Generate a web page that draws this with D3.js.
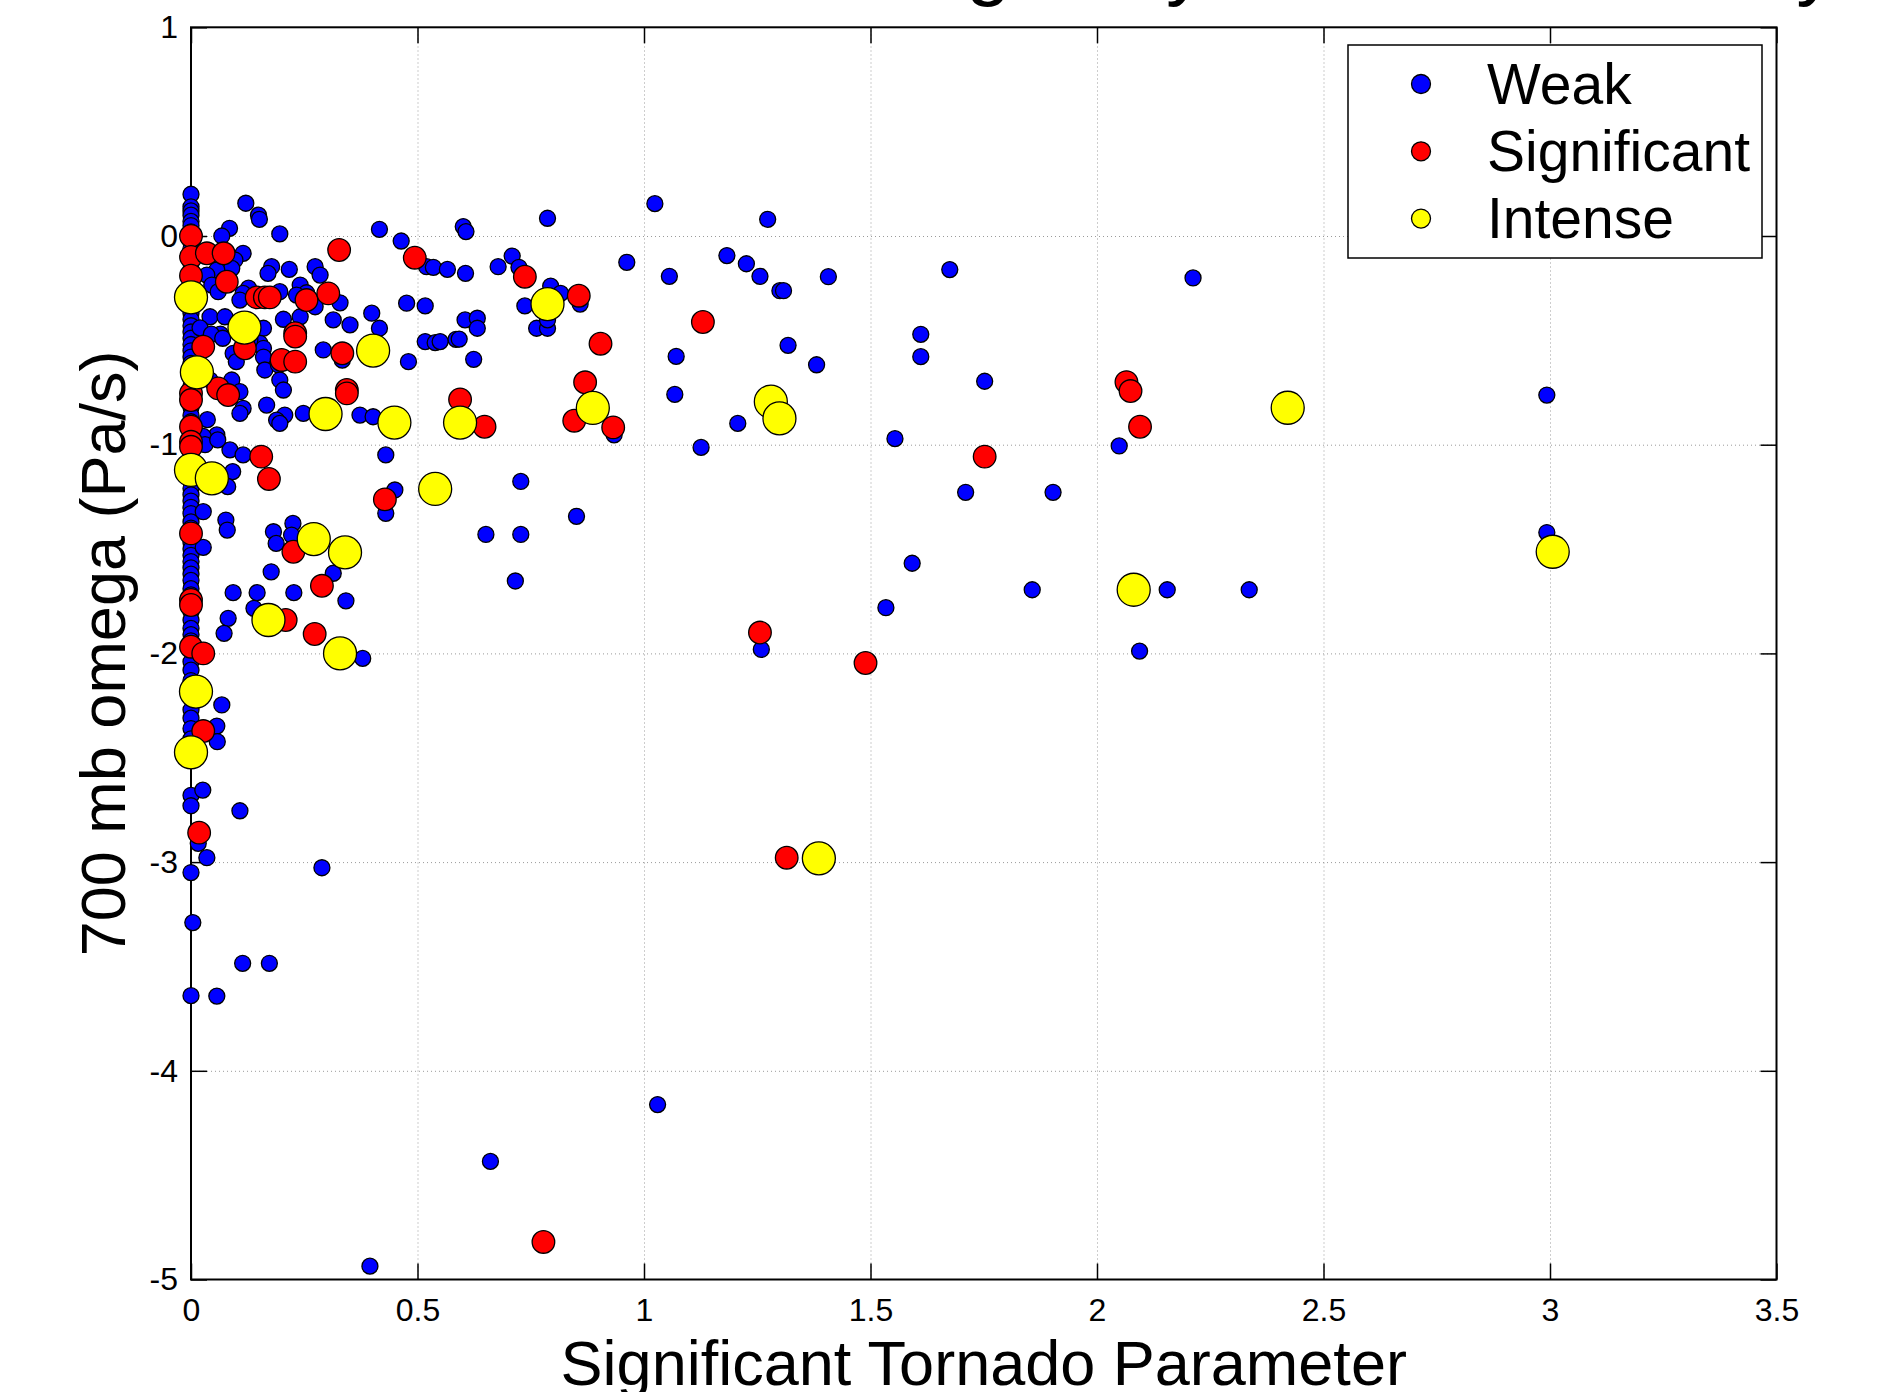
<!DOCTYPE html>
<html>
<head>
<meta charset="utf-8">
<script src="https://cdn.jsdelivr.net/npm/d3@7"></script>
<style>
  body { margin: 0; background: #fff; }
  text { font-family: "Liberation Sans", Arial, sans-serif; }
</style>
</head>
<body>
<div id="viz"></div>
<script>
// tick values and labels
const xTicks = [0, 0.5, 1, 1.5, 2, 2.5, 3, 3.5]
const xTickLabels = ["0", "0.5", "1", "1.5", "2", "2.5", "3", "3.5"]
const yTicks = [-5, -4, -3, -2, -1, 0, 1]
const yTickLabels = ["-5", "-4", "-3", "-2", "-1", "0", "1"]

// series names
const seriesNames = ["Weak", "Significant", "Intense"]

// weak tornadoes, [STP, omega]
const weakPts = [
  [0,0.20],[0,0.14],[0,0.12],[0,0.10],[0,0.07],[0,0.05],[0,0.02],[0,-0.03],[0,-0.06],[0,-0.13],
  [0,-0.16],[0,-0.22],[0,-0.26],[0,-0.34],[0,-0.37],[0,-0.40],[0,-0.43],[0,-0.46],[0,-0.49],[0,-0.52],
  [0,-0.55],[0,-0.58],[0,-0.61],[0,-0.64],[0,-0.68],[0,-0.72],[0,-0.82],[0,-0.86],[0,-0.89],[0,-0.95],
  [0,-1.04],[0,-1.17],[0,-1.21],[0,-1.24],[0,-1.27],[0,-1.30],[0,-1.33],[0,-1.37],[0,-1.40],[0,-1.47],
  [0,-1.50],[0,-1.53],[0,-1.56],[0,-1.59],[0,-1.62],[0,-1.65],[0,-1.69],[0,-1.72],[0,-1.80],[0,-1.84],
  [0,-1.88],[0,-1.91],[0,-1.94],[0,-2.04],[0,-2.08],[0,-2.13],[0,-2.27],[0,-2.31],[0,-2.36],[0,-2.41],
  [0,-2.68],[0,-2.73],[0,-3.05],[0.004,-3.29],[0,-3.64],
  [0.121,0.157],[0.149,0.10],[0.151,0.08],[0.085,0.037],[0.068,0.0],[0.196,0.01],[0.115,-0.083],
  [0.097,-0.115],[0.09,-0.155],[0.178,-0.147],[0.17,-0.179],[0.217,-0.16],[0.274,-0.147],[0.285,-0.187],
  [0.057,-0.163],[0.035,-0.187],[0.046,-0.235],[0.06,-0.267],[0.127,-0.25],[0.115,-0.275],[0.108,-0.307],
  [0.196,-0.267],[0.241,-0.235],[0.255,-0.272],[0.233,-0.283],[0.329,-0.32],[0.274,-0.339],[0.042,-0.387],
  [0.075,-0.387],[0.02,-0.44],[0.065,-0.47],[0.045,-0.47],[0.07,-0.49],[0.16,-0.442],[0.152,-0.514],
  [0.16,-0.538],[0.13,-0.498],[0.204,-0.399],[0.241,-0.387],[0.314,-0.402],[0.351,-0.426],[0.399,-0.37],
  [0.416,-0.442],[0.093,-0.562],[0.1,-0.602],[0.16,-0.58],[0.292,-0.546],[0.334,-0.595],[0.48,-0.602],
  [0.517,-0.506],[0.539,-0.511],[0.585,-0.495],[0.476,-0.322],[0.517,-0.335],[0.416,0.032],[0.464,-0.024],
  [0.52,-0.147],[0.535,-0.15],[0.163,-0.642],[0.193,-0.618],[0.196,-0.69],[0.204,-0.738],[0.042,-0.69],
  [0.09,-0.69],[0.108,-0.746],[0.115,-0.826],[0.108,-0.85],[0.167,-0.81],[0.207,-0.858],[0.189,-0.882],
  [0.196,-0.898],[0.248,-0.85],[0.373,-0.858],[0.402,-0.866],[0.036,-0.88],[0.057,-0.953],[0.027,-0.96],
  [0.086,-1.025],[0.115,-1.049],[0.43,-1.049],[0.031,-1.0],[0.059,-0.977],[0.092,-1.129],[0.081,-1.201],
  [0.027,-1.321],[0.077,-1.361],[0.08,-1.409],[0.027,-1.492],[0.45,-1.217],[0.43,-1.329],[0.182,-1.417],
  [0.188,-1.473],[0.225,-1.377],[0.222,-1.433],[0.314,-1.616],[0.342,-1.748],[0.177,-1.609],[0.093,-1.709],
  [0.146,-1.709],[0.227,-1.709],[0.139,-1.784],[0.082,-1.832],[0.073,-1.904],[0.379,-2.024],[0.068,-2.247],
  [0.057,-2.348],[0.058,-2.423],[0.026,-2.655],[0.108,-2.754],[0.016,-2.91],[0.035,-2.979],[0.289,-3.027],
  [0.114,-3.485],[0.173,-3.485],[0.057,-3.642],
  [0.601,0.045],[0.607,0.021],[0.787,0.085],[1.024,0.155],[1.273,0.08],[0.566,-0.16],[0.606,-0.179],
  [0.678,-0.147],[0.709,-0.096],[0.724,-0.15],[0.962,-0.126],[1.056,-0.193],[1.183,-0.094],[1.226,-0.133],
  [1.256,-0.193],[1.3,-0.262],[1.308,-0.262],[0.794,-0.24],[0.816,-0.275],[0.859,-0.326],[0.737,-0.335],
  [0.763,-0.442],[0.787,-0.442],[0.787,-0.402],[0.605,-0.402],[0.632,-0.394],[0.632,-0.442],[0.55,-0.506],
  [0.592,-0.494],[0.624,-0.591],[1.071,-0.577],[1.318,-0.524],[1.381,-0.617],[1.068,-0.759],[0.934,-0.953],
  [1.207,-0.898],[1.126,-1.013],
  [0.728,-1.176],[0.851,-1.343],[0.651,-1.43],[0.728,-1.43],[0.716,-1.653],[1.259,-1.981],
  [1.407,-0.195],[1.675,-0.161],[2.212,-0.201],[1.611,-0.471],[1.611,-0.578],[1.752,-0.696],[1.554,-0.971],
  [2.049,-1.006],[1.71,-1.228],[1.903,-1.228],[1.592,-1.568],[1.534,-1.781],[1.857,-1.695],[2.155,-1.695],
  [2.336,-1.695],[2.094,-1.989],
  [2.993,-0.762],[2.993,-1.421],[1.03,-4.162],[0.661,-4.434],[0.395,-4.936]
]

// significant tornadoes
const sigPts = [
  [0,0],[0,-0.10],[0,-0.19],[0.035,-0.083],[0.072,-0.083],[0.079,-0.219],[0.145,-0.294],[0.163,-0.294],
  [0.174,-0.294],[0.255,-0.307],[0.303,-0.275],[0.23,-0.466],[0.23,-0.482],[0.027,-0.53],[0.119,-0.538],
  [0.2,-0.594],[0.23,-0.602],[0.334,-0.562],[0.344,-0.738],[0.344,-0.754],[0.06,-0.73],[0.082,-0.762],
  [0,-0.754],[0,-0.786],[0,-0.914],[0,-0.986],[0,-1.01],[0.155,-1.057],[0.172,-1.164],[0,-1.425],
  [0.226,-1.513],[0.289,-1.676],[0,-1.744],[0,-1.768],[0.209,-1.84],[0.273,-1.907],[0,-1.968],[0.027,-2.0],
  [0.027,-2.372],[0.018,-2.859],[0.428,-1.262],[0.494,-0.104],[0.327,-0.067],
  [0.737,-0.195],[0.856,-0.286],[0.904,-0.516],[0.87,-0.701],[0.846,-0.885],[0.932,-0.917],[0.594,-0.783],
  [0.648,-0.914],[1.13,-0.412],[1.256,-1.9],[1.315,-2.979],[1.489,-2.046],[1.752,-1.057],[2.065,-0.7],
  [2.074,-0.743],[2.095,-0.914],[0.778,-4.82]
]

// intense tornadoes
const intensePts = [
  [0,-0.294],[0.118,-0.439],[0.013,-0.653],[0.402,-0.549],[0.297,-0.853],[0.449,-0.894],[0,-1.121],
  [0.046,-1.161],[0.539,-1.212],[0.271,-1.452],[0.34,-1.516],[0.171,-1.84],[0.329,-2.0],[0.011,-2.183],
  [0,-2.474],[0.787,-0.326],[0.594,-0.894],[0.887,-0.824],[1.28,-0.794],[1.299,-0.874],[2.421,-0.823],
  [2.081,-1.695],[3.006,-1.513],[1.386,-2.982]
]

// dimensions and margin of the svg
const width = 1889
const height = 1392
const margin = {left: 191, top: 27.3, right: 112.5, bottom: 112.5}

// dimensions of g inside svg
const g_width = width - margin.left - margin.right;
const g_height = height - margin.top - margin.bottom;

var root = d3.select("#viz")
        .append("svg")
        .attr("width", width)
        .attr("height", height)
        .style("display", "block")
        .style("background", "#fff");

var svg = root.append("g")
        .attr("transform", "translate(" + margin.left + "," + margin.top + ")");

const x = d3.scaleLinear().domain([0, 3.5]).range([0, g_width]);
const y = d3.scaleLinear().domain([-5, 1]).range([g_height, 0]);

// dotted grid
svg.append("g")
    .attr("class", "grid")
    .attr("transform", "translate(0," + g_height + ")")
    .call(d3.axisBottom(x).tickValues(xTicks.slice(1, -1)).tickSize(-g_height).tickFormat(""));
svg.append("g")
    .attr("class", "grid")
    .call(d3.axisLeft(y).tickValues(yTicks.slice(1, -1)).tickSize(-g_width).tickFormat(""));
svg.selectAll(".grid .domain").remove();
svg.selectAll(".grid line")
    .style("stroke", "#9a9a9a")
    .style("stroke-width", 1)
    .style("stroke-dasharray", "1,3");

// axes with inward ticks on all four sides
const tickLen = 16
const axes = [
  {ax: d3.axisBottom(x).tickValues(xTicks).tickFormat((d, i) => xTickLabels[i]).tickPadding(18.5), t: "translate(0," + g_height + ")"},
  {ax: d3.axisTop(x).tickValues(xTicks).tickFormat(""), t: "translate(0,0)"},
  {ax: d3.axisLeft(y).tickValues(yTicks).tickFormat((d, i) => yTickLabels[i]).tickPadding(13), t: "translate(0,0)"},
  {ax: d3.axisRight(y).tickValues(yTicks).tickFormat(""), t: "translate(" + g_width + ",0)"}
]
axes.forEach(function(a) {
  svg.append("g")
      .attr("class", "axis")
      .attr("transform", a.t)
      .call(a.ax.tickSizeInner(-tickLen).tickSizeOuter(0))
      .attr("font-size", 32)
      .attr("font-family", "Liberation Sans, Arial, sans-serif");
});
svg.selectAll(".axis .domain").remove();
svg.selectAll(".axis line").style("stroke", "#000").style("stroke-width", 1.5);
svg.selectAll(".axis text").style("fill", "#000");

// box
svg.append("rect")
    .attr("width", g_width)
    .attr("height", g_height)
    .attr("fill", "none")
    .attr("stroke", "#000")
    .attr("stroke-width", 2);

// points, weak first so larger markers sit on top
const layers = [
  {pts: weakPts, fill: "#0000ff", r: 8},
  {pts: sigPts, fill: "#ff0000", r: 11.3},
  {pts: intensePts, fill: "#ffff00", r: 16.5}
]
layers.forEach(function(l) {
  svg.append("g")
      .selectAll("circle")
      .data(l.pts)
      .enter()
      .append("circle")
      .attr("cx", function(d) { return x(d[0]) })
      .attr("cy", function(d) { return y(d[1]) })
      .attr("r", l.r)
      .attr("fill", l.fill)
      .attr("stroke", "#000")
      .attr("stroke-width", 1.3);
});

// x label
root.append("text")
    .attr("x", margin.left + g_width / 2)
    .attr("y", 1385)
    .attr("text-anchor", "middle")
    .attr("font-size", 63)
    .text("Significant Tornado Parameter");

// y label
root.append("text")
    .attr("transform", "translate(125," + (margin.top + g_height / 2) + ")rotate(-90)")
    .attr("text-anchor", "middle")
    .attr("font-size", 63)
    .text("700 mb omega (Pa/s)");

// title, mostly above the top edge
root.append("text")
    .attr("x", margin.left + g_width / 2)
    .attr("y", -10)
    .attr("text-anchor", "middle")
    .attr("font-size", 80)
    .text("Tornado STP and Strength, by Tornado Intensity");

// legend
const legend = root.append("g").attr("transform", "translate(1348,45)");
legend.append("rect")
    .attr("width", 414)
    .attr("height", 213)
    .attr("fill", "#fff")
    .attr("stroke", "#000")
    .attr("stroke-width", 1.5);
const legendFill = ["#0000ff", "#ff0000", "#ffff00"]
seriesNames.forEach(function(name, i) {
  legend.append("circle")
      .attr("cx", 73)
      .attr("cy", 39 + i * 67.3)
      .attr("r", 9.5)
      .attr("fill", legendFill[i])
      .attr("stroke", "#000")
      .attr("stroke-width", 1.3);
  legend.append("text")
      .attr("x", 139)
      .attr("y", 59 + i * 67)
      .attr("font-size", 57)
      .text(name);
});
</script>
</body>
</html>
